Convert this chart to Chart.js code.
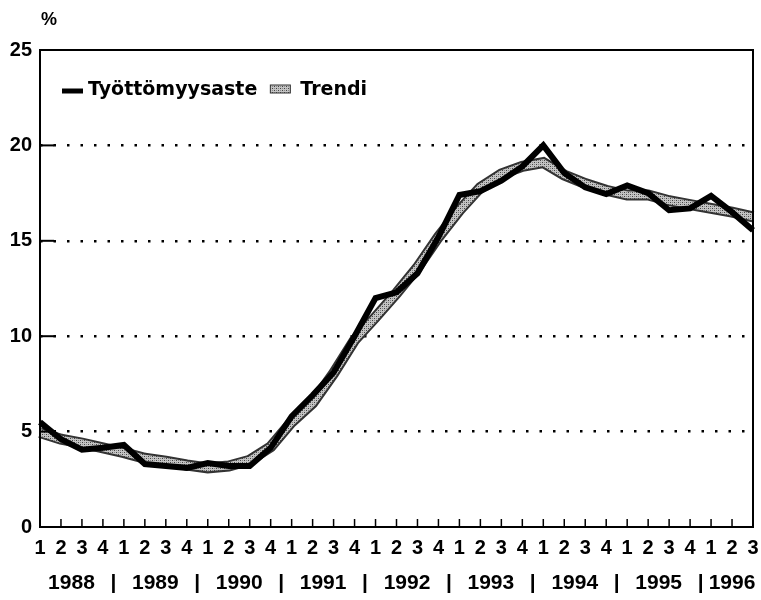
<!DOCTYPE html>
<html>
<head>
<meta charset="utf-8">
<script src="https://cdn.jsdelivr.net/npm/chart.js@4.4.1/dist/chart.umd.min.js"></script>
<style>
  html, body { margin: 0; padding: 0; background: #fff; }
  #wrap { width: 761px; height: 600px; }
</style>
</head>
<body>
<div id="wrap"><canvas id="chart"></canvas></div>
<script>
// quarterly data 1988 Q1 .. 1996 Q3
const quarters = ['1','2','3','4', '1','2','3','4', '1','2','3','4', '1','2','3','4',
                  '1','2','3','4', '1','2','3','4', '1','2','3','4', '1','2','3','4', '1','2','3'];
const years = ['1988', '1989', '1990', '1991', '1992', '1993', '1994', '1995', '1996'];
const unemployment = [5.5, 4.6, 4.05, 4.15, 4.3, 3.3, 3.2, 3.1, 3.35, 3.2, 3.2, 4.15,
                      5.8, 6.9, 8.1, 10.0, 12.0, 12.3, 13.3, 15.2, 17.4, 17.6, 18.15, 18.9,
                      20.0, 18.55, 17.8, 17.45, 17.9, 17.5, 16.6, 16.7, 17.35, 16.5, 15.55];
const trend = [4.95, 4.6, 4.4, 4.15, 3.9, 3.6, 3.45, 3.25, 3.1, 3.2, 3.5, 4.2,
               5.5, 6.5, 8.05, 9.8, 11.0, 12.25, 13.6, 15.2, 16.6, 17.8, 18.5, 18.9,
               19.1, 18.45, 18.0, 17.65, 17.4, 17.4, 17.1, 16.9, 16.7, 16.5, 16.25];
const yTicks = [0, 5, 10, 15, 20, 25];

const NUM_FONT = "'Liberation Sans', Arial, sans-serif";
const TXT_FONT = "'DejaVu Sans', sans-serif";

// stippled grey fill for the trend band
function makeStipple() {
    const c = document.createElement('canvas');
    c.width = 4; c.height = 4;
    const g = c.getContext('2d');
    g.fillStyle = '#c4c4c4';
    g.fillRect(0, 0, 4, 4);
    g.fillStyle = '#444';
    g.fillRect(0, 0, 1, 1);
    g.fillRect(2, 2, 1, 1);
    g.fillStyle = '#888';
    g.fillRect(2, 0, 1, 1);
    g.fillRect(0, 2, 1, 1);
    return g.createPattern(c, 'repeat');
}

const ctx = document.getElementById('chart').getContext('2d');
const stipple = makeStipple();

const decorations = {
    id: 'decorations',
    afterDraw(chart) {
        const { ctx, chartArea: a, scales: { x, y } } = chart;
        const line = (x1, y1, x2, y2) => {
            ctx.beginPath(); ctx.moveTo(x1, y1); ctx.lineTo(x2, y2); ctx.stroke();
        };
        ctx.save();
        ctx.strokeStyle = '#000';
        ctx.setLineDash([]);

        // frame
        ctx.lineWidth = 2;
        ctx.strokeRect(a.left, a.top, a.right - a.left, a.bottom - a.top);

        // inward ticks
        yTicks.forEach(v => {
            const py = y.getPixelForValue(v);
            line(a.left, py, a.left + 14, py);
        });
        ctx.lineWidth = 1.5;
        quarters.forEach((q, i) => {
            const px = x.getPixelForValue(i);
            line(px, a.bottom, px, a.bottom - 8);
        });

        ctx.fillStyle = '#000';
        ctx.textBaseline = 'middle';

        // year row with separators
        ctx.font = "bold 21px " + NUM_FONT;
        ctx.textAlign = 'center';
        const yy = a.bottom + 56;
        years.forEach((yr, k) => {
            const first = 4 * k;
            const last = Math.min(4 * k + 3, quarters.length - 1);
            const cx = (x.getPixelForValue(first) + x.getPixelForValue(last)) / 2;
            ctx.fillText(yr, cx, yy);
            if (4 * k + 4 < quarters.length) {
                const sx = (x.getPixelForValue(4 * k + 3) + x.getPixelForValue(4 * k + 4)) / 2;
                ctx.fillText('|', sx, yy);
            }
        });

        // unit
        ctx.font = "bold 18px " + NUM_FONT;
        ctx.textAlign = 'left';
        ctx.fillText('%', a.left + 1, a.top - 30);

        // legend
        const ly = a.top + 40;
        let lx = a.left + 22;
        ctx.lineWidth = 5;
        line(lx, ly + 1, lx + 21, ly + 1);
        lx += 26;
        ctx.font = "bold 19px " + TXT_FONT;
        ctx.fillText('Työttömyysaste', lx, ly);
        lx += ctx.measureText('Työttömyysaste').width + 13;
        ctx.fillStyle = stipple;
        ctx.fillRect(lx, ly - 5, 20, 8);
        ctx.lineWidth = 1;
        ctx.strokeStyle = '#333';
        ctx.strokeRect(lx, ly - 5, 20, 8);
        ctx.fillStyle = '#000';
        ctx.fillText('Trendi', lx + 30, ly);
        ctx.restore();
    }
};

new Chart(ctx, {
    type: 'line',
    data: {
        labels: quarters,
        datasets: [
            {
                label: 'Trendi',
                data: trend,
                borderColor: '#333',
                borderWidth: 11,
                pointRadius: 0,
                tension: 0,
                order: 3
            },
            {
                label: 'Trendi fill',
                data: trend,
                borderColor: stipple,
                borderWidth: 7,
                pointRadius: 0,
                tension: 0,
                order: 2
            },
            {
                label: 'Työttömyysaste',
                data: unemployment,
                borderColor: '#000',
                borderWidth: 6,
                borderJoinStyle: 'miter',
                pointRadius: 0,
                tension: 0,
                order: 1
            }
        ]
    },
    options: {
        responsive: true,
        maintainAspectRatio: false,
        animation: false,
        layout: { padding: { top: 50, right: 8, left: 0, bottom: 0 } },
        plugins: {
            legend: { display: false },
            tooltip: { enabled: false }
        },
        scales: {
            x: {
                offset: false,
                grid: { display: false, drawTicks: false },
                border: { display: false },
                ticks: {
                    autoSkip: false,
                    maxRotation: 0,
                    padding: 9,
                    color: '#000',
                    font: { family: NUM_FONT, size: 20, weight: 'bold' }
                },
                afterFit: s => { s.height = 73; s.paddingLeft = 0; s.paddingRight = 0; }
            },
            y: {
                min: 0,
                max: 25,
                grid: {
                    drawTicks: false,
                    lineWidth: 2.5,
                    color: c => (c.tick && (c.tick.value === 0 || c.tick.value === 25)) ? 'rgba(0,0,0,0)' : '#000'
                },
                border: { display: false, dash: [2.5, 11] },
                ticks: {
                    stepSize: 5,
                    padding: 8,
                    color: '#000',
                    font: { family: NUM_FONT, size: 20, weight: 'bold' },
                    callback: (v) => yTicks.includes(v) ? String(v) : ''
                },
                afterFit: s => { s.width = 40; s.paddingTop = 0; s.paddingBottom = 0; }
            }
        }
    },
    plugins: [decorations]
});
</script>
</body>
</html>
